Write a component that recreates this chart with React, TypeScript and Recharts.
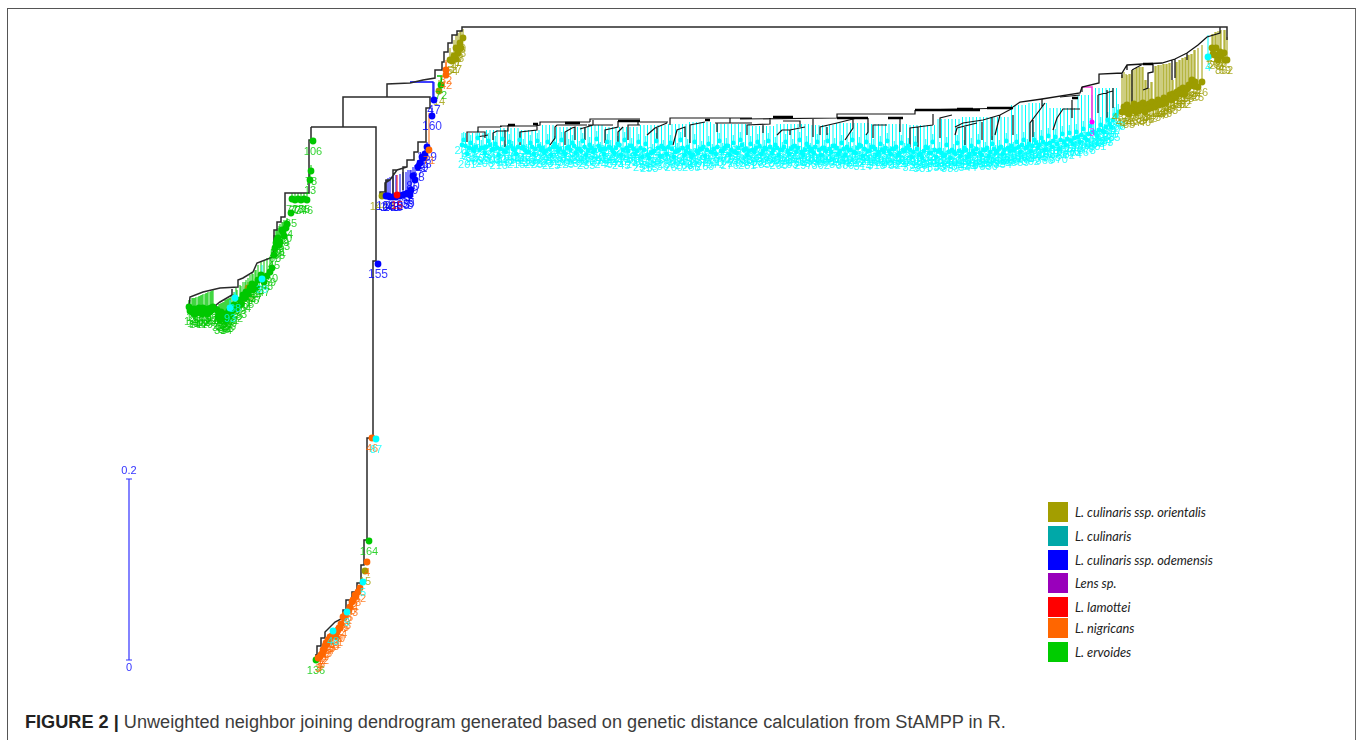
import { ComposedChart, Line, XAxis, YAxis } from 'recharts'

type Pt = number[]
type Leaf = [number, number, number, string?]

// x = leaf position along the page, h = branch height in scale-bar units (181 units = 0.2)
const rootStem: Pt[][] = [
  [[1227, 620], [1227, 633], [462, 633], [462, 629], [457, 629], [457, 625], [452, 625], [452, 617], [448, 617], [448, 608], [444, 608], [444, 598], [442, 598], [442, 590], [435, 590], [435, 582], [423, 580], [410, 577], [387, 576], [387, 563]],
  [[311, 533], [343, 533], [343, 563], [430, 563], [430, 552], [426, 552], [426, 518], [418, 518], [418, 508], [414, 508], [414, 500], [407, 500], [407, 493], [397, 490], [390, 480], [385, 477], [385, 468], [380, 468], [380, 462]],
  [[343, 533], [376, 533], [376, 399], [373, 399], [373, 222], [367, 222], [367, 120], [364, 120], [364, 95], [361, 95], [361, 77], [357, 77], [357, 68], [352, 68], [352, 60], [346, 60], [346, 50], [343, 50], [343, 42], [335, 38], [325, 28], [325, 22], [321, 22], [321, 14], [317, 14], [317, 5], [315, 5]],
  [[311, 533], [311, 520], [309, 520], [309, 467], [285, 467], [285, 443], [281, 443], [281, 438], [277, 438], [277, 430], [274, 430], [274, 417], [273, 403], [257, 397], [253, 388], [243, 382], [238, 380], [238, 373], [220, 372], [203, 368], [190, 363], [189, 353]],
  [[232, 371], [232, 365], [220, 358], [216, 355], [216, 347]],
  [[407, 493], [403, 493], [403, 470]],
  [[397, 490], [393, 490], [393, 465]],
  [[390, 480], [386, 480], [386, 465]],
]

const cyanClade: Pt[][] = [
  [[467, 518], [467, 528], [485, 528], [485, 522]], [[478, 528], [478, 533], [500, 533], [502, 534]], [[477, 523], [488, 525]],
  [[493, 520], [493, 527], [497, 529], [508, 529], [508, 535]], [[505, 513], [505, 530]], [[500, 534], [535, 534]],
  [[520, 515], [520, 528], [537, 530], [537, 536]], [[535, 534], [540, 535], [540, 538], [590, 538]],
  [[550, 515], [555, 522], [555, 533], [557, 535], [587, 535]], [[565, 515], [565, 528], [572, 532], [575, 533], [575, 520]],
  [[580, 531], [593, 535], [593, 540]], [[585, 532], [585, 520]], [[588, 535], [613, 535]], [[590, 538], [590, 541], [640, 541]],
  [[605, 517], [605, 530], [618, 533], [618, 539]], [[618, 515], [618, 528], [623, 533]], [[628, 520], [628, 535], [640, 535]], [[638, 535], [638, 539]],
  [[640, 538], [668, 538]], [[647, 525], [655, 532], [667, 537]], [[657, 520], [657, 532]], [[670, 535], [670, 542], [752, 542]],
  [[673, 515], [677, 530], [685, 533], [685, 523]], [[690, 517], [690, 535], [705, 538]], [[715, 537], [752, 537]], [[730, 542], [730, 537]], [[717, 528], [717, 537]],
  [[740, 541], [837, 542]], [[747, 525], [747, 535], [770, 536], [770, 542]], [[763, 536], [763, 527]], [[783, 539], [800, 539], [800, 533]],
  [[777, 525], [782, 530], [790, 530], [805, 533]], [[790, 530], [790, 525]], [[813, 523], [813, 542]], [[820, 525], [820, 533], [837, 537], [857, 542]], [[827, 525], [827, 533]],
  [[837, 542], [837, 546], [915, 546], [915, 550]], [[845, 520], [853, 532], [853, 542]], [[866, 525], [868, 528], [868, 542]], [[873, 522], [873, 535], [887, 535]],
  [[900, 528], [900, 541]], [[910, 513], [910, 532], [933, 535]], [[918, 513], [918, 533]], [[933, 535], [933, 546]], [[940, 522], [940, 542], [952, 545]],
  [[915, 550], [1013, 552]], [[955, 525], [957, 532], [977, 537]], [[965, 515], [965, 533]], [[955, 533], [963, 537], [983, 540], [1000, 545], [1013, 552]],
  [[982, 520], [982, 538]], [[992, 520], [992, 543]], [[995, 525], [1000, 545]], [[1013, 525], [1013, 545]],
  [[1030, 517], [1030, 537], [1045, 557]], [[1033, 540], [1033, 523]], [[1042, 561], [1042, 553]], [[1053, 530], [1057, 542], [1063, 551], [1080, 551]], [[1072, 560], [1072, 542]],
  [[1060, 563], [1080, 565]], [[1082, 573], [1082, 568]], [[1098, 565], [1113, 569]], [[1098, 565], [1098, 547]], [[1107, 570], [1107, 540]], [[1113, 572], [1113, 552]],
]

const oliveClade: Pt[][] = [
  [[1013, 553], [1020, 558], [1042, 561], [1080, 567], [1082, 573], [1099, 577], [1099, 586], [1122, 587], [1127, 595], [1143, 596], [1162, 597], [1175, 601], [1187, 607], [1198, 615], [1207, 623], [1220, 627], [1220, 633]],
  [[1122, 587], [1122, 582]], [[1127, 595], [1127, 590]], [[1132, 590], [1132, 558]], [[1132, 590], [1143, 596]],
  [[1153, 596], [1153, 588], [1148, 587], [1148, 572], [1143, 570]], [[1172, 600], [1172, 580]], [[1175, 601], [1175, 582]], [[1187, 607], [1187, 600]],
]

// clustered short branches that print almost solid black
const thickRuns: Pt[][] = [
  [[508, 535], [515, 535]], [[533, 536], [538, 536]], [[565, 537], [580, 537]], [[618, 539], [640, 539]], [[705, 540], [710, 540]], [[773, 543], [793, 543]],
  [[837, 542], [868, 542]], [[888, 542], [903, 542]], [[915, 550], [980, 550]], [[957, 551], [973, 551]], [[987, 552], [1013, 552]], [[1072, 562], [1078, 562]], [[1143, 596], [1153, 596]],
]

const bluePaths: Pt[][] = [[[410, 578], [433, 578], [433, 562]]]
const greenPaths: Pt[][] = [[[437, 584], [442, 584], [441, 577]]]
const magentaPaths: Pt[][] = [[[1082, 573], [1092, 573], [1092, 538]], [[443, 592], [446, 585]]]

// cyan leaves: run lengths with the branch height they hang from, then every tip height
const cyanStartX = 462
const cyanLeafGap = 3.5
const cyanRuns = [
  [7, 527], [4, 530], [6, 532], [6, 530], [4, 535], [10, 533], [4, 535], [10, 533], [8, 535], [6, 536], [7, 538], [11, 536], [7, 534],
  [10, 536], [7, 535], [10, 537], [11, 536], [8, 535], [7, 541], [14, 543], [5, 555], [6, 557], [8, 552], [5, 565], [7, 572],
]
const cyanTips = [
  515, 514, 512, 511, 513, 510, 512, 513, 515, 511, 512, 511, 509, 512, 514, 510, 513, 512, 510, 508, 513, 511, 514, 512, 509, 511, 513,
  513, 511, 508, 512, 510, 514, 511, 509, 513, 510, 512, 510, 514, 511, 511, 513, 509, 512, 515, 510, 512, 514, 511, 509, 512, 510, 505, 507, 509, 512, 514, 511,
  513, 511, 508, 510, 512, 509, 507, 505, 509, 511, 513, 510, 508, 511, 513, 509, 512, 514, 510, 508, 512, 515, 511, 509, 510, 512, 514, 509, 511, 513, 510,
  512, 510, 513, 509, 511, 514, 512, 508, 510, 513, 511, 513, 510, 512, 509, 511, 514, 512, 509, 511, 513, 510, 508, 512, 514, 511, 509,
  513, 511, 508, 510, 512, 509, 511, 513, 507, 510, 512, 510, 508, 511, 506, 509, 512, 507, 510, 509, 507, 505, 508, 510, 506, 509,
  508, 510, 506, 509, 511, 507, 510, 512, 508, 511, 509, 513, 510, 512, 514, 511, 513, 515, 512, 516, 514, 517, 515, 518, 516,
  517, 519, 516, 520, 518, 521, 519, 522, 523, 525, 522, 526, 528, 527, 530, 529, 533, 536, 540, 544,
]
// second row of cyan leaves, sitting between the first on short twigs
const cyanTwig = 8
const cyanOffsetTips = [
  520, 506, 517, 509, 522, 512, 507, 519, 510, 516, 505, 521, 508, 518, 511, 506, 520, 513, 508, 517, 506, 519, 510,
  507, 518, 505, 516, 509, 520, 506, 513, 517, 507, 511, 519, 505, 515, 508, 521, 510, 506, 518, 512, 507, 516, 505, 520, 509, 514, 506, 518,
  503, 516, 502, 508, 519, 504, 512, 506, 517, 503, 509, 520, 505, 513, 503, 518, 507, 511, 504, 516, 508,
  506, 519, 509, 514, 505, 517, 507, 520, 510, 505, 516, 508, 518, 506, 512, 519, 507, 515, 505, 510, 518, 506, 513, 508, 520, 505, 516, 509,
  507, 518, 505, 512, 519, 508, 514, 506, 517, 505, 510, 520, 507, 515, 504, 518, 509, 513, 505, 516, 508, 519, 506, 511, 505, 517, 509, 514,
  503, 516, 505, 502, 513, 507, 518, 503, 510, 504, 515, 502, 508, 517, 504, 512, 503, 514, 506, 518, 505, 510, 504, 516, 507, 512, 506, 519, 509,
  510, 518, 508, 520, 513, 509, 520, 512, 522, 510, 524, 513, 523, 511, 526, 515, 527, 516, 528, 518, 531, 520, 534, 528, 524, 535, 528, 540, 533, 545, 548,
]

const oliveLeaves: Leaf[] = [
  [1124, 588, 553, '4887'], [1127, 585, 555], [1130, 586, 552], [1134, 590, 556], [1137, 592, 554], [1140, 593, 555], [1143, 593, 557], [1146, 580, 553], [1149, 572, 556], [1152, 578, 558],
  [1156, 594, 557], [1158, 595, 560], [1161, 595, 558], [1164, 596, 562], [1167, 596, 560], [1170, 597, 565], [1173, 580, 566], [1177, 598, 568], [1180, 600, 570], [1183, 602, 572],
  [1186, 603, 570], [1189, 605, 575], [1192, 606, 580], [1195, 610, 578], [1198, 612, 573], [1202, 615, 578], [1212, 626, 612], [1215, 628, 605], [1218, 629, 600, '8'], [1221, 630, 604, '3'], [1224, 630, 607, '6'], [1227, 623, 600, '62'],
  [1122, 585, 548, '48'], [1126, 586, 548], [1129, 586, 546], [1132, 590, 550], [1136, 592, 548], [1139, 593, 549], [1142, 593, 551], [1145, 580, 548], [1148, 572, 551], [1151, 578, 552], [1155, 594, 553], [1159, 595, 555], [1163, 596, 556], [1166, 596, 557],
  [1169, 597, 561], [1172, 580, 560], [1176, 598, 563], [1179, 600, 566], [1182, 602, 566], [1185, 603, 566], [1188, 605, 572], [1191, 606, 575], [1194, 610, 574], [1213, 626, 606], [1216, 628, 612], [1220, 629, 608], [1225, 630, 600],
  [463, 631, 622, '9'], [460, 629, 617, '68'], [456, 625, 612, '69'], [458, 617, 607, '7'], [456, 608, 601, '17'], [452, 608, 599, '54'], [461, 630, 612, '8'], [458, 627, 608, '1'], [454, 620, 604, '4'], [450, 612, 600, '5'],
  [439, 580, 569, '14'], [382, 468, 464, '1448'], [365, 92, 89, '15'], [248, 378, 372, '29'],
]
const greenLeaves: Leaf[] = [
  [189, 360, 353], [192, 362, 350], [194, 362, 351], [196, 363, 349], [199, 364, 352], [201, 365, 350], [203, 366, 352], [206, 367, 349], [208, 368, 351], [211, 369, 352], [213, 370, 353],
  [190, 360, 349], [193, 362, 347], [195, 362, 346], [198, 363, 349], [200, 364, 347], [202, 365, 346], [205, 366, 348], [207, 367, 346], [210, 368, 348], [212, 369, 350],
  [217, 354, 350], [219, 356, 345], [221, 357, 348], [223, 358, 343], [225, 360, 346], [227, 361, 344], [229, 362, 349], [231, 364, 347],
  [218, 354, 343], [220, 356, 340], [222, 357, 344], [224, 358, 341], [226, 360, 340], [228, 361, 342], [230, 362, 344],
  [234, 368, 355], [236, 372, 354], [240, 375, 360], [243, 378, 365], [246, 380, 368], [250, 385, 372], [252, 388, 376], [255, 390, 375], [258, 395, 380], [261, 398, 385], [264, 400, 378], [267, 402, 384], [270, 403, 388, '69'], [272, 405, 392],
  [233, 366, 350], [237, 370, 352], [241, 374, 356], [245, 378, 362], [248, 382, 366], [253, 386, 370], [256, 390, 372],
  [274, 425, 405, '45'], [276, 430, 417], [278, 432, 422], [280, 436, 418], [282, 438, 430], [284, 440, 424], [287, 442, 436, '54'], [291, 444, 447],
  [275, 425, 412], [277, 430, 420], [279, 434, 415], [283, 438, 428], [286, 440, 432],
  [292, 467, 461], [295, 467, 460], [298, 467, 461], [301, 467, 460], [304, 467, 461], [307, 467, 460],
  [310, 490, 480, '13'], [311, 495, 489], [313, 520, 519, '106'], [369, 122, 119, '164'], [316, 5, 0, '136'], [441, 584, 575, '72'],
]
const blueLeaves: Leaf[] = [
  [378, 397, 396, '155'], [434, 578, 560, '47'], [432, 552, 544, '160'], [427, 518, 513, '159'], [425, 510, 506, '28'], [422, 506, 503, '29'], [418, 500, 493, '38'], [413, 493, 484, '80'],
  [408, 490, 467, '35'], [403, 488, 465, '95'], [393, 485, 463, '156'], [390, 483, 463, '143'], [386, 480, 464, '158'],
  [415, 495, 480, '9'], [411, 490, 470, '6'], [410, 490, 465, '5'], [406, 488, 466, '3'], [400, 486, 464, '2'], [396, 485, 463, '8'], [388, 482, 464, '4'], [420, 503, 497, '7'], [424, 508, 502, '1'],
]
const redLeaves: Leaf[] = [[397, 485, 465, '15']]
const orangeLeaves: Leaf[] = [
  [429, 547, 510, '71'], [446, 600, 590, '32'], [446, 598, 585, '42'], [372, 222, 222, '46'], [367, 98, 98, '4'], [360, 74, 72, '42'], [355, 67, 65, '2'], [352, 60, 58, '53'], [350, 55, 53, '6'],
  [345, 47, 45, '63'], [343, 44, 43, '45'], [341, 38, 36, '24'], [339, 34, 32, '40'], [337, 30, 28, '61'], [335, 28, 26, '51'], [330, 25, 23, '35'], [328, 22, 20, '84'], [326, 20, 17, '33'], [323, 13, 10, '12'], [321, 8, 5, '7'], [318, 5, 2, '3'],
  [358, 70, 68, '8'], [356, 66, 64, '1'], [353, 62, 60, '5'], [349, 52, 50, '2'], [344, 46, 42, '6'], [340, 36, 32, '9'], [338, 32, 30, '7'], [336, 28, 24, '3'], [332, 28, 24, '4'], [329, 24, 20, '5'], [327, 20, 16, '8'], [325, 18, 14, '1'], [324, 15, 10, '2'], [322, 10, 6, '6'], [320, 8, 3, '9'],
]
const tintCyanLeaves: Leaf[] = [[376, 222, 221, '87'], [363, 80, 78, '5'], [347, 50, 48, '9'], [333, 32, 29, '48'], [235, 368, 362, '38'], [230, 360, 352, '93'], [262, 395, 381, '39'], [1208, 625, 603, '4']]
const magentaLeaves: Leaf[] = [[1092, 538, 538, '3']]

const scaleBar: Pt[][] = [[[129, 0], [129, 181]], [[126, 181], [132, 181]], [[126, 0], [132, 0]]]
const scaleLabels = ['0', '0.2']
const scaleHeights = [0, 181]

const legendLabels = ['L. culinaris ssp. orientalis', 'L. culinaris', 'L. culinaris ssp. odemensis', 'Lens sp.', 'L. lamottei', 'L. nigricans', 'L. ervoides']
const legendColors = ['#a39e00', '#00a8a8', '#0000ff', '#9900bb', '#ff0000', '#ff6600', '#00cc00']
const legendTops = [502, 526, 550, 573, 597, 618, 642]

function flatten(paths: Pt[][]) {
  return paths.flatMap((p) => [...p.map(([x, h]) => ({ x, h })), { x: p[p.length - 1][0], h: null }])
}

function sticks(leaves: Leaf[]) {
  return flatten(leaves.map(([x, top, tip]) => [[x, top], [x, tip]]))
}

function tips(leaves: Leaf[]) {
  return leaves.map(([x, , tip, label], i) => ({ x, h: tip, label: label ?? String(i + 1) }))
}

const cyanTops = cyanRuns.flatMap(([count, top]) => Array.from({ length: count }, () => top))
const cyanLeaves: Leaf[] = [
  ...cyanTops.map((top, i) => [cyanStartX + i * cyanLeafGap, top, cyanTips[i]] as Leaf),
  ...cyanOffsetTips.map((tip, i) => [cyanStartX + 1.75 + i * cyanLeafGap, tip + cyanTwig, tip, String(200 + i)] as Leaf),
]

const leafSets: { leaves: Leaf[]; color: string; r: number; labelSize: number }[] = [
  { leaves: cyanLeaves, color: '#00ffff', r: 2.4, labelSize: 11 },
  { leaves: oliveLeaves, color: '#9c9c00', r: 3.4, labelSize: 11 },
  { leaves: greenLeaves, color: '#00c800', r: 3.4, labelSize: 11 },
  { leaves: blueLeaves, color: '#0000ff', r: 3.4, labelSize: 12 },
  { leaves: redLeaves, color: '#ff0000', r: 3.4, labelSize: 11 },
  { leaves: orangeLeaves, color: '#ff6600', r: 3.4, labelSize: 11 },
  { leaves: tintCyanLeaves, color: '#00ffff', r: 3.4, labelSize: 11 },
  { leaves: magentaLeaves, color: '#ff00ff', r: 2.5, labelSize: 10 },
]

function leafMark(color: string, r: number, labelSize: number) {
  return (props: any) => (
    <g key={props.key ?? props.index}>
      <circle cx={props.cx} cy={props.cy} r={r} fill={color} />
      <text x={props.cx} y={props.cy + 10} fill={color} fontSize={labelSize} fontFamily="'Liberation Sans Narrow', 'Liberation Sans'" textAnchor="middle" dominantBaseline="central" fillOpacity={0.8}>
        {props.payload.label}
      </text>
    </g>
  )
}

function scaleMark(props: any) {
  const up = props.payload.h > 0
  return (
    <text key={props.key ?? props.index} x={props.cx} y={props.cy + (up ? -9 : 7)} fill="#3333ff" fontSize={11} fontFamily="'Liberation Sans Narrow', 'Liberation Sans'" textAnchor="middle" dominantBaseline="central">
      {props.payload.label}
    </text>
  )
}

function path(key: string, paths: Pt[][], stroke: string, width: number) {
  return <Line key={key} data={flatten(paths)} dataKey="h" stroke={stroke} strokeWidth={width} dot={false} activeDot={false} connectNulls={false} isAnimationActive={false} />
}

export default function App() {
  return (
    <div style={{ position: 'absolute', left: 0, top: 0, width: 1357, height: 740, overflow: 'hidden', background: '#fff' }}>
      <div style={{ position: 'absolute', left: 7, top: 8, width: 1347, height: 740, borderLeft: '1.5px solid #555', borderTop: '1.5px solid #555', borderRight: '1.5px solid #666' }} />
      <div style={{ position: 'absolute', left: 0, top: 0, filter: 'blur(0.45px)' }}>
        <ComposedChart width={1357} height={740} margin={{ top: 0, right: 0, bottom: 0, left: 0 }}>
          <XAxis type="number" dataKey="x" domain={[0, 1357]} hide />
          <YAxis type="number" domain={[-80, 660]} hide />
          {leafSets.map((s, i) => (
            <Line key={`stick-${i}`} data={sticks(s.leaves)} dataKey="h" stroke={s.color} strokeWidth={1} dot={false} activeDot={false} connectNulls={false} isAnimationActive={false} />
          ))}
          {leafSets.map((s, i) => (
            <Line key={`tip-${i}`} data={tips(s.leaves)} dataKey="h" stroke="none" dot={leafMark(s.color, s.r, s.labelSize)} activeDot={false} isAnimationActive={false} />
          ))}
          {path('blue', bluePaths, '#0000ff', 1.3)}
          {path('green', greenPaths, '#00c800', 1.3)}
          {path('magenta', magentaPaths, '#ff33dd', 1.6)}
          {path('cyan-clade', cyanClade, '#151515', 1.2)}
          {path('olive-clade', oliveClade, '#151515', 1.3)}
          {path('root', rootStem, '#2a2a2a', 1.5)}
          {path('thick', thickRuns, '#000000', 2.6)}
          {path('scale', scaleBar, '#3333ff', 1.2)}
          <Line data={scaleHeights.map((h, i) => ({ x: 129, h, label: scaleLabels[i] }))} dataKey="h" stroke="none" dot={scaleMark} activeDot={false} isAnimationActive={false} />
        </ComposedChart>
      </div>
      {legendLabels.map((label, i) => (
        <div key={label}>
          <div style={{ position: 'absolute', left: 1048, top: legendTops[i], width: 20, height: 20, background: legendColors[i] }} />
          <div style={{ position: 'absolute', left: 1075, top: legendTops[i] + 2, fontFamily: 'Lato', fontStyle: 'italic', fontSize: 12.8, lineHeight: '16px', color: '#222', whiteSpace: 'nowrap' }}>{label}</div>
        </div>
      ))}
      <div style={{ position: 'absolute', left: 25, top: 712, fontFamily: "'Liberation Sans'", fontSize: 18.15, lineHeight: '20px', color: '#3c3c3c', whiteSpace: 'nowrap' }}>
        <b style={{ color: '#222' }}>FIGURE 2 | </b>Unweighted neighbor joining dendrogram generated based on genetic distance calculation from StAMPP in R.
      </div>
    </div>
  )
}
